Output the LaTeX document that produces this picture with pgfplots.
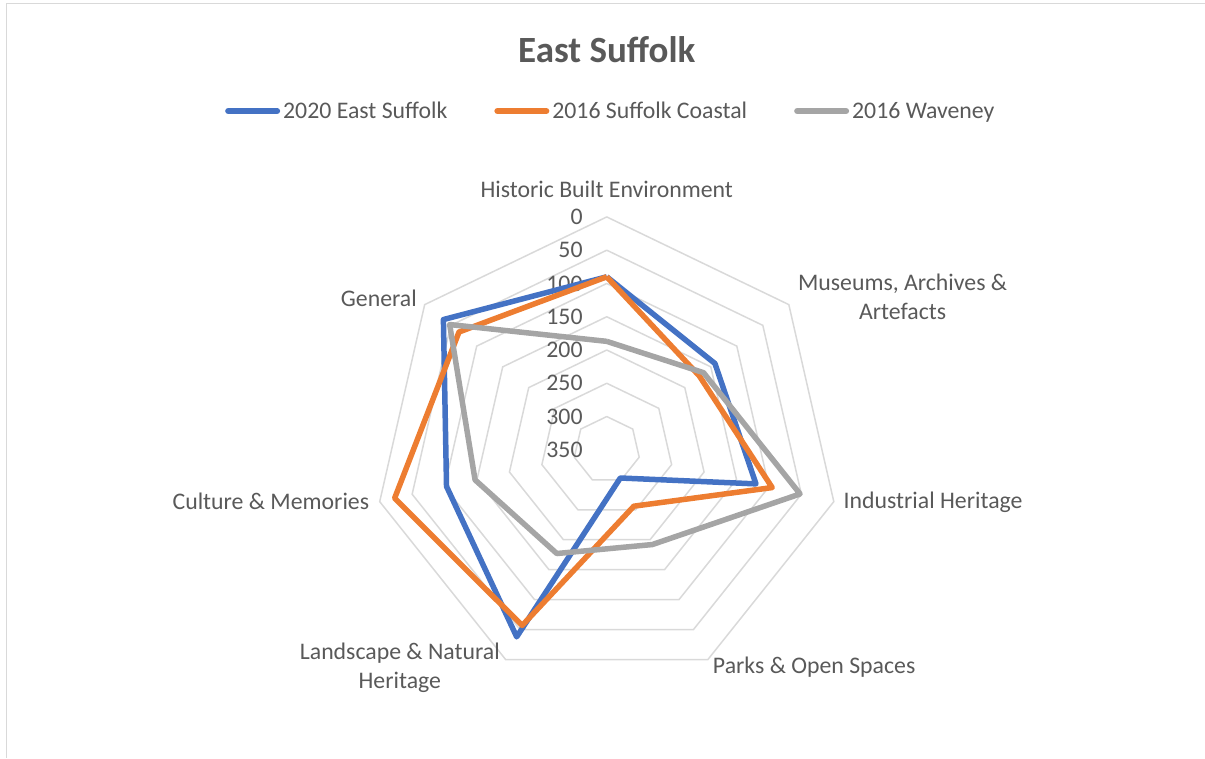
\documentclass[border=0pt]{standalone}
\usepackage{fontspec}
\setmainfont{Carlito}
\usepackage{pgfplots}
\pgfplotsset{compat=1.18}
\usepackage{pgfplotstable}
\definecolor{esblue}{HTML}{4472C4}
\definecolor{scorange}{HTML}{ED7D31}
\definecolor{wvgray}{HTML}{A5A5A5}
\definecolor{ringc}{HTML}{D9D9D9}
\definecolor{txt}{HTML}{595959}

% angle (deg, clockwise from top), then the three series; last row closes the polygon
\pgfplotstableread{
a        es   sc   wv
90       90   90   187
38.571   142  172  164
-12.857  120  95   52
-64.286  303  256  192
-115.714 38   57   177
-167.143 103  23   147
-218.571 36   66   48
-270     90   90   187
}\radar

\newcommand\lbl{\fontsize{23.8bp}{29bp}\selectfont}

\begin{document}
\begin{tikzpicture}[x=1bp,y=-1bp]
\path (0,0) rectangle (1205,758);
\draw[ringc, line width=1bp] (7,758) -- (7,4) -- (1205,4);
\node[font=\fontsize{37bp}{44bp}\selectfont\bfseries, text=txt] at (607,50) {East Suffolk};

\begin{axis}[
  at={(607bp,-450bp)}, anchor=origin,
  x=0.6657bp, y=0.6657bp,
  xmin=-400, xmax=400, ymin=-400, ymax=400,
  hide axis, clip=false,
  legend columns=3,
  legend style={at={(0.5085,1.1365)}, anchor=center, draw=none, fill=none,
    font=\lbl, text=txt, nodes={inner sep=3bp},
    /tikz/every even column/.append style={column sep=44bp}},
  legend image code/.code={\draw[#1, line width=6bp, line cap=round] (3bp,0bp) -- (52bp,0bp);},
]
% heptagonal rings, reversed radius: value v sits at radius 350-v
\pgfplotsinvokeforeach{0,50,...,300}{
  \addplot[ringc, line width=1.5bp, forget plot, data cs=polar]
    table[x=a, y expr={350-#1}] {\radar};
}
\pgfplotsinvokeforeach{0,50,...,350}{
  \node[anchor=east, inner sep=0pt, font=\lbl, text=txt] at (axis cs:-36,{350-#1}) {#1};
}
\addplot[esblue, line width=5.5bp, line join=round, data cs=polar]
  table[x=a, y expr=350-\thisrow{es}] {\radar};
\addlegendentry{2020 East Suffolk}
\addplot[scorange, line width=5.5bp, line join=round, data cs=polar]
  table[x=a, y expr=350-\thisrow{sc}] {\radar};
\addlegendentry{2016 Suffolk Coastal}
\addplot[wvgray, line width=5.5bp, line join=round, data cs=polar]
  table[x=a, y expr=350-\thisrow{wv}] {\radar};
\addlegendentry{2016 Waveney}
\end{axis}

\begin{scope}[every node/.style={font=\lbl, text=txt, align=center}]
\node at (607,189) {Historic Built Environment};
\node at (903,297) {Museums, Archives \&\\Artefacts};
\node at (933.5,502) {Industrial Heritage};
\node at (814.5,667) {Parks \& Open Spaces};
\node at (400,668) {Landscape \& Natural\\Heritage};
\node at (271,502) {Culture \& Memories};
\node at (379,298) {General};
\end{scope}
\end{tikzpicture}
\end{document}
